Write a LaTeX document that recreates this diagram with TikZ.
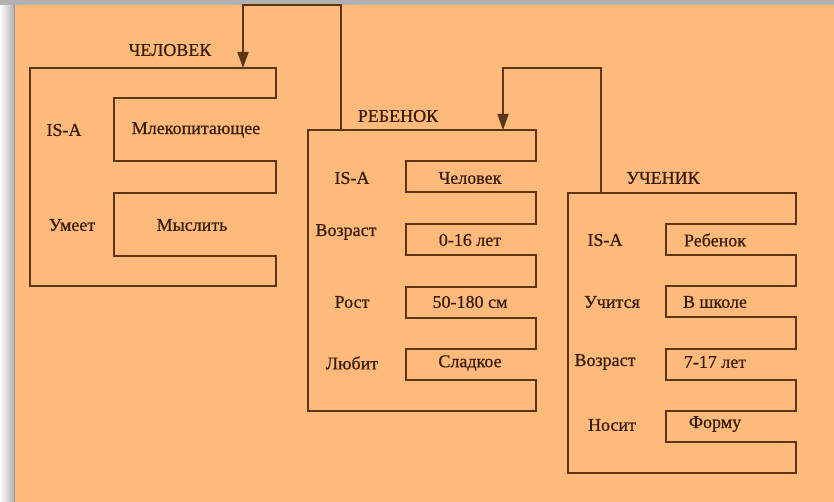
\documentclass[tikz,border=0pt]{standalone}
\usepackage{fontspec}
\setmainfont{Liberation Serif}
\newfontfamily\slotfont{Liberation Serif}[FakeBold=0.8]
\usepackage{xcolor}
\usepackage{tikz}
\usetikzlibrary{positioning,arrows.meta}
\definecolor{paper}{RGB}{254,186,122}
\definecolor{ink}{RGB}{92,52,22}
\definecolor{textink}{RGB}{58,30,12}

\begin{document}
\begin{tikzpicture}[x=1pt,y=-1pt,
frame/.style={draw=ink,line width=1.8pt,line join=miter},
link/.style={draw=ink,line width=1.8pt,-{Triangle[length=16pt,width=11pt]}},
slot/.style={text=textink,font=\slotfont\fontsize{18}{20}\selectfont,inner sep=0pt}]
    % page with shadow
    \useasboundingbox (0,0) rectangle (834,502);
    \shade[left color=white,right color=black!30] (0,0) rectangle (14,502);
    \fill[black!30] (0,0) rectangle (834,5);
    \draw[blue!30!black!40,line width=1pt] (14.5,5) -- (14.5,502);
    \fill[paper] (15,5) rectangle (834,502);
    % frames
    \draw[frame] (30,68) -- (276,68)
        \foreach \y in {98,193} { -- (276,\y) -- (114,\y) -- (114,\y+63) -- (276,\y+63) }
        -- (276,286) -- (30,286) -- cycle;
    \draw[frame] (308,130) -- (536,130)
        \foreach \y in {161,224,287,349} { -- (536,\y) -- (406,\y) -- (406,\y+31) -- (536,\y+31) }
        -- (536,411) -- (308,411) -- cycle;
    \draw[frame] (568,193) -- (796,193)
        \foreach \y in {224,286,349,411} { -- (796,\y) -- (666,\y) -- (666,\y+31) -- (796,\y+31) }
        -- (796,473) -- (568,473) -- cycle;
    % ends of links
    \coordinate (human in) at (243,68);
    \coordinate (human rail) at (243,5);
    \coordinate (child out) at (341,130);
    \coordinate (child in) at (503,130);
    \coordinate (child rail) at (503,68);
    \coordinate (pupil out) at (601,193);
    % ЧЕЛОВЕК
    \node[slot] (human) at (170,50) {ЧЕЛОВЕК};
    \node[slot] (human isa) at (64,130) {IS-A};
    \node[slot] (human isa v) at (196,130) {Млекопитающее};
    \node[slot] (human can) at (72,225) {Умеет};
    \node[slot] (human can v) at (192,225) {Мыслить};
    % РЕБЕНОК
    \node[slot] (child) at (398,116) {РЕБЕНОК};
    \node[slot] (child isa) at (352,178) {IS-A};
    \node[slot] (child isa v) at (470,178) {Человек};
    \node[slot] (child age) at (346,232) {Возраст};
    \node[slot] (child age v) at (470,240) {0-16 лет};
    \node[slot] (child height) at (352,302) {Рост};
    \node[slot] (child height v) at (470,302) {50-180 см};
    \node[slot] (child likes) at (352,363) {Любит};
    \node[slot] (child likes v) at (470,363) {Сладкое};
    % УЧЕНИК
    \node[slot] (pupil) at (663,178) {УЧЕНИК};
    \node[slot] (pupil isa) at (605,240) {IS-A};
    \node[slot] (pupil isa v) at (715,240) {Ребенок};
    \node[slot] (pupil learns) at (612,302) {Учится};
    \node[slot] (pupil learns v) at (715,302) {В школе};
    \node[slot] (pupil age) at (605,362) {Возраст};
    \node[slot] (pupil age v) at (715,362) {7-17 лет};
    \node[slot] (pupil wears) at (612,425) {Носит};
    \node[slot] (pupil wears v) at (715,424) {Форму};
    % links
    \draw[link] (child out) |- (human rail) -- (human in);
    \draw[link] (pupil out) |- (child rail) -- (child in);
\end{tikzpicture}
\end{document}
